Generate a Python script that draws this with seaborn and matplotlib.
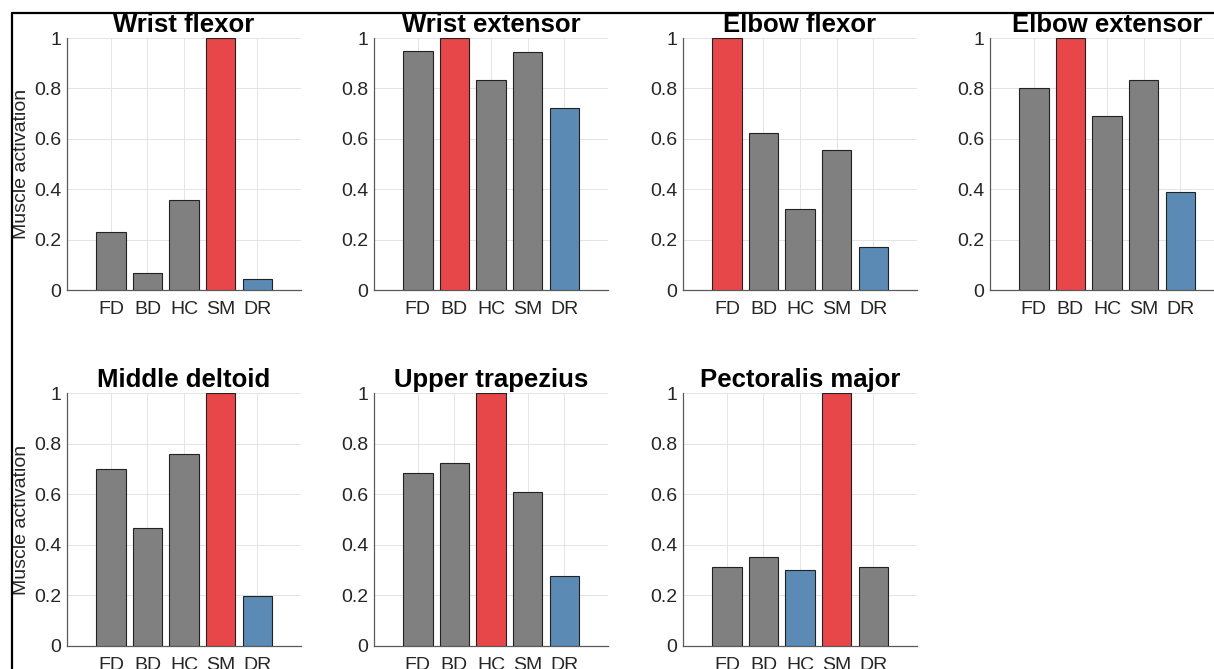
import numpy as np
import pandas as pd
import matplotlib.pyplot as plt
import seaborn as sns
from matplotlib.lines import Line2D

# data
groups = ['FD', 'BD', 'HC', 'SM', 'DR']
muscles = ['Wrist flexor', 'Wrist extensor', 'Elbow flexor', 'Elbow extensor',
           'Middle deltoid', 'Upper trapezius', 'Pectoralis major']
wrist_flexor = [0.229, 0.066, 0.358, 1.0, 0.042]
wrist_extensor = [0.947, 1.0, 0.833, 0.944, 0.723]
elbow_flexor = [1.0, 0.624, 0.321, 0.554, 0.170]
elbow_extensor = [0.800, 1.0, 0.689, 0.832, 0.387]
middle_deltoid = [0.699, 0.465, 0.760, 1.0, 0.197]
upper_trapezius = [0.683, 0.723, 1.0, 0.608, 0.277]
pectoralis_major = [0.314, 0.350, 0.299, 1.0, 0.314]
activation = [wrist_flexor, wrist_extensor, elbow_flexor, elbow_extensor,
              middle_deltoid, upper_trapezius, pectoralis_major]
yticks = [0, 0.2, 0.4, 0.6, 0.8, 1.0]
ytick_labels = ['0', '0.2', '0.4', '0.6', '0.8', '1']

# highest bar red, lowest bar blue, the rest grey
palette = {'max': '#E8474A', 'min': '#5B8AB5', 'other': '#808080'}

sns.set_theme(style="whitegrid")
plt.rcParams['font.family'] = ['Liberation Sans', 'DejaVu Sans']

W, H = 1214, 669
fig = plt.figure(figsize=(W / 100, H / 100), dpi=100)

col_left = [67, 374, 683, 990]
ax_w = 234
rows = [(38, 290), (393, 646)]

for i, (name, vals) in enumerate(zip(muscles, activation)):
    r, c = divmod(i, 4)
    top, base = rows[r]
    ax = fig.add_axes([col_left[c] / W, 1 - base / H, ax_w / W, (base - top) / H])

    vals = np.array(vals)
    role = np.full(len(vals), 'other', dtype=object)
    role[np.argmax(vals)] = 'max'
    role[np.argmin(vals)] = 'min'
    df = pd.DataFrame({'group': groups, 'value': vals, 'role': role})

    sns.barplot(data=df, x='group', y='value', hue='role', palette=palette,
                dodge=False, legend=False, width=0.8, saturation=1,
                edgecolor='#222222', linewidth=0.8, ax=ax, zorder=3)

    ax.set_xlim(-1.2, 5.2)
    ax.set_ylim(0, 1)
    ax.set_yticks(yticks)
    ax.set_yticklabels(ytick_labels)
    ax.set_xlabel('')
    ax.set_ylabel('Muscle activation' if c == 0 else '', fontsize=14, color='#262626')
    ax.yaxis.set_label_coords(-0.157, 0.5)
    ax.set_title(name, fontsize=18.5, fontweight='bold', pad=4, color='black')

    ax.set_facecolor('white')
    ax.grid(True, color='#e4e4e4', linewidth=0.7, zorder=0)
    ax.set_axisbelow(True)
    for side in ['top', 'right']:
        ax.spines[side].set_visible(False)
    for side in ['left', 'bottom']:
        ax.spines[side].set_visible(True)
        ax.spines[side].set_color('#5a5a5a')
        ax.spines[side].set_linewidth(0.9)
    ax.tick_params(axis='both', direction='in', length=3, width=0.8,
                   color='#5a5a5a', labelsize=14, labelcolor='#262626')
    ax.tick_params(axis='x', pad=8)
    ax.tick_params(axis='y', pad=4)

# frame lines at the top and left edge of the picture
fig.add_artist(Line2D([12 / W, 1], [1 - 12.5 / H, 1 - 12.5 / H], color='black', linewidth=1.6))
fig.add_artist(Line2D([12 / W, 12 / W], [0, 1 - 12.5 / H], color='black', linewidth=1.6))

fig.savefig('out.png', dpi=100)
plt.close(fig)
